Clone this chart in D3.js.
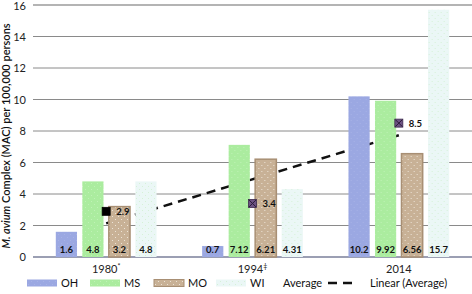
<!DOCTYPE html>
<html>
<head>
<meta charset="utf-8">
<script src="https://cdn.jsdelivr.net/npm/d3@7"></script>
<style>
  body { margin: 0; background: #fff; }
  svg text { font-family: Lato, "Open Sans", sans-serif; }
</style>
</head>
<body>
<div id="chart"></div>
<script>
const years = ["1980", "1994", "2014"]
const yearMarks = ["*", "\u2021", ""]
const states = ["OH", "MS", "MO", "WI"]
const ohValues = [1.6, 0.7, 10.2]
const msValues = [4.8, 7.12, 9.92]
const moValues = [3.2, 6.21, 6.56]
const wiValues = [4.8, 4.31, 15.7]
const averageValues = [2.9, 3.4, 8.5]
const yTicks = [0, 2, 4, 6, 8, 10, 12, 14, 16]

const width = 472
const height = 294
const margin = { top: 5, bottom: 37, left: 33, right: 0 }
const chartW = width - margin.left - margin.right
const chartH = height - margin.top - margin.bottom

const stateColors = { OH: "#9ba8e2", MS: "#abec9f", MO: "#c8b196", WI: "#ebf7f6" }
const dotColors = { OH: "#a7b2e6", MS: "#bff2b6", MO: "#ece3d6", WI: "#d6f1d8" }

const seriesByState = { OH: ohValues, MS: msValues, MO: moValues, WI: wiValues }

let rows = years.map((y, i) => ({
    year: y,
    mark: yearMarks[i],
    avg: averageValues[i],
    bars: states.map(s => ({ state: s, value: seriesByState[s][i] }))
}))

let svg = d3.select("#chart").append("svg")
    .attr("width", width)
    .attr("height", height)

// dotted textures like the original
let defs = svg.append("defs")
states.forEach(s => {
    let p = defs.append("pattern")
        .attr("id", "pat" + s)
        .attr("patternUnits", "userSpaceOnUse")
        .attr("width", 6).attr("height", 6)
    p.append("rect").attr("width", 6).attr("height", 6).attr("fill", stateColors[s])
    p.append("rect").attr("x", 1).attr("y", 1).attr("width", 1).attr("height", 1).attr("fill", dotColors[s])
    p.append("rect").attr("x", 4).attr("y", 4).attr("width", 1).attr("height", 1).attr("fill", dotColors[s])
})

let g = svg.append("g").attr("transform", `translate(${margin.left},${margin.top})`)

let x0 = d3.scaleBand().domain(years).range([0, chartW]).padding(0)
let x1 = d3.scaleBand().domain(states).range([0, x0.bandwidth()])
    .paddingInner(0.2).paddingOuter(0.86)
let y = d3.scaleLinear().domain([0, 16]).range([chartH, 0])

// gridlines
g.append("g")
    .selectAll("line")
    .data(yTicks.filter(t => t > 0))
    .join("line")
    .attr("x1", 0).attr("x2", chartW)
    .attr("y1", d => y(d)).attr("y2", d => y(d))
    .attr("stroke", d => d === 16 ? "#b4b4b4" : "#8a8a8a")
    .attr("stroke-width", d => d === 16 ? 2 : 1)

// y axis labels
let yAxis = d3.axisLeft(y).tickValues(yTicks).tickSize(0).tickPadding(7)
let yAxisG = g.append("g").call(yAxis)
yAxisG.select(".domain").remove()
yAxisG.selectAll("text").attr("font-size", "11px").attr("fill", "#222")
    .attr("dy", d => d === 16 ? "0.45em" : "0.32em")
    .style("font-family", "Lato, sans-serif")

// baseline
g.append("line")
    .attr("x1", 0).attr("x2", chartW)
    .attr("y1", y(0)).attr("y2", y(0))
    .attr("stroke", "#7a7f9a").attr("stroke-width", 1.3)

// linear trend of the average (least squares)
let xs = averageValues.map((d, i) => i + 1)
let mx = d3.mean(xs), my = d3.mean(averageValues)
let slope = d3.sum(xs.map((xv, i) => (xv - mx) * (averageValues[i] - my))) / d3.sum(xs.map(xv => (xv - mx) ** 2))
let intercept = my - slope * mx
let trend = [
    { year: years[0], v: intercept + slope * 1 },
    { year: years[years.length - 1], v: intercept + slope * years.length }
]
g.append("path")
    .datum(trend)
    .attr("d", d3.line().x(d => x0(d.year) + x0.bandwidth() / 2).y(d => y(d.v)))
    .attr("stroke", "#111")
    .attr("stroke-width", 2.5)
    .attr("stroke-dasharray", "9,6")
    .attr("fill", "none")

// bars
let groups = g.selectAll(".grp")
    .data(rows)
    .join("g")
    .attr("class", "grp")
    .attr("transform", d => `translate(${x0(d.year)},0)`)

groups.selectAll("rect")
    .data(d => d.bars)
    .join("rect")
    .attr("x", d => x1(d.state))
    .attr("y", d => y(d.value))
    .attr("width", x1.bandwidth())
    .attr("height", d => y(0) - y(d.value))
    .attr("fill", d => "url(#pat" + d.state + ")")
    .attr("stroke", d => d.state === "MO" ? "#a88f74" : "none")
    .attr("stroke-width", 1.5)

groups.selectAll(".val")
    .data(d => d.bars)
    .join("text")
    .attr("class", "val")
    .attr("x", d => x1(d.state) + x1.bandwidth() / 2)
    .attr("y", y(0) - 4)
    .attr("text-anchor", "middle")
    .attr("font-size", "9.5px")
    .attr("font-weight", "bold")
    .attr("fill", "#111")
    .text(d => d.value)

// average markers
let ms = 8
groups.append("rect")
    .attr("x", x0.bandwidth() / 2 - ms / 2)
    .attr("y", d => y(d.avg) - ms / 2)
    .attr("width", ms).attr("height", ms)
    .attr("fill", (d, i) => i === 0 ? "#000" : "#6d5283")
    .attr("stroke", (d, i) => i === 0 ? "#000" : "#3c2a4c")
    .attr("stroke-width", 0.8)

groups.filter((d, i) => i > 0).each(function(d) {
    let cx = x0.bandwidth() / 2, cy = y(d.avg), h = ms / 2 - 0.5
    d3.select(this).append("path")
        .attr("d", `M${cx - h},${cy - h}L${cx + h},${cy + h}M${cx + h},${cy - h}L${cx - h},${cy + h}`)
        .attr("stroke", "#2a1a38").attr("stroke-width", 1)
})

groups.append("text")
    .attr("x", x0.bandwidth() / 2 + 10)
    .attr("y", d => y(d.avg) + 3.5)
    .attr("font-size", "9.5px")
    .attr("font-weight", "bold")
    .attr("fill", "#111")
    .text(d => d.avg)

// x labels
let xl = groups.append("text")
    .attr("x", x0.bandwidth() / 2)
    .attr("y", chartH + 16)
    .attr("text-anchor", "middle")
    .attr("font-size", "11px")
    .attr("fill", "#222")
xl.append("tspan").text(d => d.year)
xl.append("tspan").attr("font-size", "7px").attr("dy", -4).text(d => d.mark)

// y axis title
let yt = svg.append("text")
    .attr("transform", `translate(10,${margin.top + chartH / 2 + 5}) rotate(-90)`)
    .attr("text-anchor", "middle")
    .attr("font-size", "11px")
    .attr("font-weight", "600")
    .attr("fill", "#111")
yt.append("tspan").attr("font-style", "italic").text("M. avium")
yt.append("tspan").text(" Complex (MAC) per 100,000 persons")

// legend
let legend = svg.append("g").attr("transform", "translate(27,283)")
let legendItems = [
    { label: "OH", type: "bar", key: "OH", x: 0 },
    { label: "MS", type: "bar", key: "MS", x: 63 },
    { label: "MO", type: "bar", key: "MO", x: 127 },
    { label: "WI", type: "bar", key: "WI", x: 189 },
    { label: "Average", type: "none", x: 256 },
    { label: "Linear (Average)", type: "dash", x: 301 }
]
let li = legend.selectAll("g").data(legendItems).join("g")
    .attr("transform", d => `translate(${d.x},0)`)
li.filter(d => d.type === "bar").append("rect")
    .attr("x", 0).attr("y", -3.5)
    .attr("width", 30).attr("height", 7)
    .attr("fill", d => "url(#pat" + d.key + ")")
    .attr("stroke", d => d.key === "MO" ? "#a88f74" : "none")
li.filter(d => d.type === "dash").append("line")
    .attr("x1", 0).attr("x2", 29).attr("y1", 0).attr("y2", 0)
    .attr("stroke", "#111").attr("stroke-width", 2.5)
    .attr("stroke-dasharray", "9,6")
li.append("text")
    .attr("x", d => d.type === "none" ? 0 : (d.type === "dash" ? 42 : 34))
    .attr("y", 4)
    .attr("font-size", "11px")
    .attr("fill", "#111")
    .text(d => d.label)
</script>
</body>
</html>
